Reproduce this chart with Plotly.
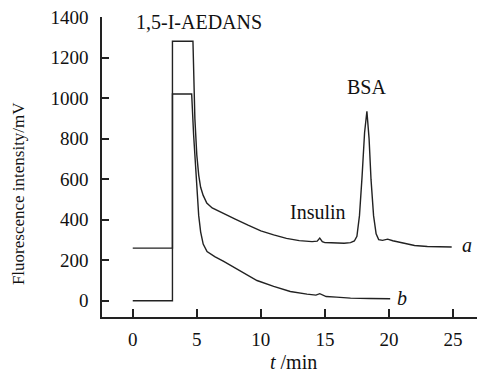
import plotly.graph_objects as go

# Curve a (with insulin + BSA)
t_a = [0, 3.1, 3.1, 4.7, 4.85, 5.0, 5.15, 5.3, 5.5, 5.78, 6.2, 7.1, 8.0, 9.0, 10.0,
       11.0, 12.0, 13.0, 14.0, 14.4, 14.6, 14.8, 15.0, 15.5, 16.0, 16.5, 17.0, 17.3, 17.5,
       17.7, 17.9, 18.1, 18.28, 18.45, 18.6, 18.8, 19.0, 19.2, 19.5, 19.9, 20.3, 21.0,
       22.0, 23.0, 24.0, 24.9]
i_a = [260, 260, 1280, 1280, 900, 720, 620, 560, 520, 482, 458, 432, 403, 373, 345,
       325, 308, 297, 292, 294, 309, 292, 287, 286, 285, 284, 287, 295, 318,
       420, 610, 830, 935, 800, 600, 420, 330, 302, 298, 304, 296, 288,
       273, 268, 266, 265]

# Curve b (blank)
t_b = [0, 3.1, 3.1, 4.6, 4.75, 4.95, 5.15, 5.3, 5.5, 5.8, 6.4, 7.1, 8.4, 9.7,
       11.0, 12.3, 13.6, 14.3, 14.6, 15.1, 15.9, 17.0, 18.5, 20.1]
i_b = [0, 0, 1020, 1020, 820, 600, 420, 340, 280, 243, 218, 194, 145, 100,
       71, 46, 33, 28, 35, 21, 18, 13, 11, 10]

x_ticks = [0, 5, 10, 15, 20, 25]
y_ticks = [0, 200, 400, 600, 800, 1000, 1200, 1400]

labels = [
    ("1,5-I-AEDANS", 5.18, 1375, False),
    ("BSA", 18.28, 1057, False),
    ("Insulin", 14.48, 439, False),
    ("a", 26.1, 276, True),
    ("b", 21.0, 15, True),
]

FONT = "Liberation Serif, Times New Roman, serif"
LC = "#222222"
TC = "#111111"

fig = go.Figure()
fig.add_trace(go.Scatter(x=t_a, y=i_a, mode="lines",
                         line=dict(color=LC, width=1.4), showlegend=False))
fig.add_trace(go.Scatter(x=t_b, y=i_b, mode="lines",
                         line=dict(color=LC, width=1.4), showlegend=False))

for txt, x, y, ital in labels:
    fig.add_annotation(x=x, y=y, xref="x", yref="y",
                       text=f"<i>{txt}</i>" if ital else txt,
                       showarrow=False, font=dict(family=FONT, size=20, color=TC),
                       xanchor="center", yanchor="middle")

fig.add_annotation(x=0.499, y=-0.15, xref="paper", yref="paper",
                   text="<i>t</i> /min", showarrow=False,
                   font=dict(family=FONT, size=20, color=TC),
                   xanchor="center", yanchor="middle")
fig.add_annotation(x=-0.219, y=0.41, xref="paper", yref="paper",
                   text="Fluorescence intensity/mV", textangle=-90, showarrow=False,
                   font=dict(family=FONT, size=17, color=TC),
                   xanchor="center", yanchor="middle")

# page body has an 8px margin, so the figure is sized/offset to compensate
fig.update_layout(
    template="none",
    width=477, height=366,
    margin=dict(l=94, r=0, t=9, b=57),
    plot_bgcolor="white", paper_bgcolor="white",
    font=dict(family=FONT, size=19, color=TC),
    xaxis=dict(range=[-2.4, 27.5], tickvals=x_ticks, ticks="inside", ticklen=8,
               tickwidth=1.5, tickcolor=LC, showline=True, linecolor=LC, linewidth=1.5,
               showgrid=False, zeroline=False, tickfont=dict(size=19),
               ticklabelstandoff=4, automargin=False, ticklabeloverflow="allow"),
    yaxis=dict(range=[-80, 1400], tickvals=y_ticks, ticks="inside", ticklen=7,
               tickwidth=1.5, tickcolor=LC, showline=True, linecolor=LC, linewidth=1.5,
               showgrid=False, zeroline=False, tickfont=dict(size=19),
               ticklabelstandoff=8, automargin=False, ticklabeloverflow="allow"),
)

fig.write_html("out.html")
